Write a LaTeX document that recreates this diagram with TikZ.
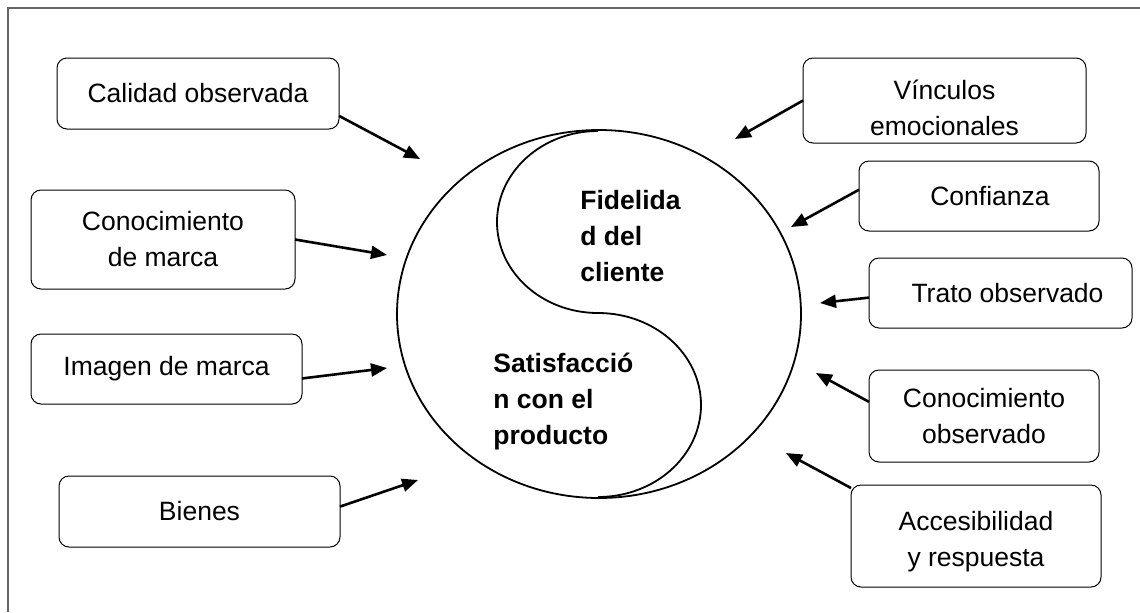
\documentclass[tikz,border=0pt]{standalone}
\usepackage{fontspec}
\setmainfont{Liberation Sans}
\usetikzlibrary{arrows.meta}

\begin{document}
\begin{tikzpicture}[x=0.5pt, y=-0.5pt, font=\fontsize{13.25}{18}\selectfont]
    \tikzset{box/.style={draw, rounded corners=5pt, align=center, inner sep=0pt, outer sep=0pt, line width=0.5pt},
             core/.style={anchor=west, align=left, inner sep=0pt, font=\fontsize{13.25}{18}\selectfont\bfseries},
             link/.style={line width=1.3pt, -{Triangle[length=8pt, width=6.5pt]}}}

    \useasboundingbox (0,0) rectangle (1140,612);
    \draw[line width=0.75pt, black!60] (1140,8) -- (8,8) -- (8,612);

    \draw (198,93.5) node (calidad) [box, minimum width=141pt, minimum height=35.5pt] {Calidad observada};
    \draw (163,239.5) node (conmarca) [box, minimum width=132pt, minimum height=49.5pt] {Conocimiento\\de marca};
    \draw (166.5,369) node (imagen) [box, minimum width=135.5pt, minimum height=35pt] {Imagen de marca};
    \draw (199.5,511.5) node (bienes) [box, minimum width=140.5pt, minimum height=35.5pt] {Bienes};
    \draw (944.5,100.5) node (vinculos) [box, minimum width=141.5pt, minimum height=42.5pt] {\rule{0pt}{17pt}V\'inculos\\emocionales};
    \draw (979,196) node (confianza) [box, minimum width=120pt, minimum height=35pt] {\hspace*{11pt}Confianza};
    \draw (1000.5,293) node (trato) [box, minimum width=131.5pt, minimum height=35pt] {\hspace*{7pt}Trato observado};
    \draw (984,416) node (conobs) [box, minimum width=115pt, minimum height=46pt] {Conocimiento\\observado};
    \draw (976,536) node (acceso) [box, minimum width=125pt, minimum height=51pt] {\rule{0pt}{15pt}Accesibilidad\\y respuesta};

    \draw[line width=0.9pt] (599,314) ellipse [x radius=101pt, y radius=92pt];
    \draw[line width=0.9pt] (598,131) arc[start angle=90, end angle=270, x radius=50.5pt, y radius=45.5pt]
        arc[start angle=90, end angle=-90, x radius=51.5pt, y radius=46pt];

    \draw (580,236) node (fidelidad) [core] {Fidelida\\d del\\cliente};
    \draw (493,402) node (satisf) [core] {Satisfacci\'o\\n con el\\producto};

    \coordinate (h1) at (420,159);
    \coordinate (h2) at (387,255);
    \coordinate (h3) at (387,368);
    \coordinate (h4) at (418,480);
    \coordinate (h5) at (735,139);
    \coordinate (h6) at (791,227);
    \coordinate (h7) at (820,303);
    \coordinate (h8) at (816,373);
    \coordinate (h9) at (786,453);

    \draw[link] (calidad.-9) -- (h1);
    \draw[link] (conmarca.east) -- (h2);
    \draw[link] (imagen.-4) -- (h3);
    \draw[link] (bienes.2) -- (h4);
    \draw[link] (vinculos.west) -- (h5);
    \draw[link] (confianza.177) -- (h6);
    \draw[link] (trato.182) -- (h7);
    \draw[link] (conobs.173) -- (h8);
    \draw[link] (acceso.159) -- (h9);
\end{tikzpicture}
\end{document}
